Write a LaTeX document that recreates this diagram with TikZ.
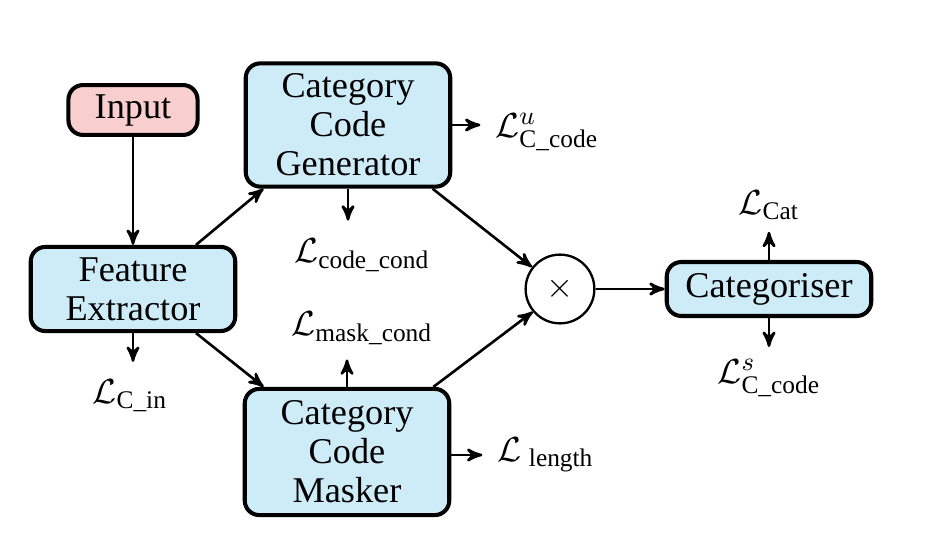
\documentclass[tikz,border=0pt]{standalone}
\usepackage{amsmath}
\usepackage{fontspec}
\setmainfont{Liberation Serif}
\usetikzlibrary{arrows}
\definecolor{boxblue}{RGB}{206,235,248}
\definecolor{boxpink}{RGB}{248,206,206}

\begin{document}
\begin{tikzpicture}[>=stealth', x=0.01211cm, y=-0.01211cm,
	font=\fontsize{12.5}{13.4}\selectfont,
	block/.style={draw, line width=1.4pt, rounded corners=5pt, fill=boxblue,
		align=center, inner sep=1pt, minimum width=70.5pt},
	loss/.style={inner sep=1pt},
	flow/.style={->, line width=0.9pt}]

	\useasboundingbox (0,0) rectangle (946,550);

	% blocks
	\node[block, fill=boxpink, minimum width=44.5pt, minimum height=17.2pt] (input) at (133,110) {Input};
	\node[block, minimum height=29pt] (fe) at (133,289) {Feature\\Extractor};
	\node[block, minimum height=42.5pt] (ccg) at (348,125) {Category\\Code\\Generator};
	\node[block, minimum height=43.5pt] (ccm) at (347,452) {Category\\Code\\Masker};
	\node[draw, circle, line width=0.8pt, minimum size=23.7pt, inner sep=0pt] (mult) at (560,289) {$\times$};
	\node[block, minimum height=18.6pt] (cat) at (769,289) {Categoriser};

	% losses
	\node[loss, anchor=west] (lccu) at (492,132) {$\mathcal{L}^{u}_{\text{C\_code}}$};
	\node[loss] (lcode) at (362,255) {$\mathcal{L}_{\text{code\_cond}}$};
	\node[loss] (lmask) at (362,328) {$\mathcal{L}_{\text{mask\_cond}}$};
	\node[loss, anchor=west] (llen) at (494,455) {$\mathcal{L}_{\;\text{length}}$};
	\node[loss] (lcin) at (130,396) {$\mathcal{L}_{\text{C\_in}}$};
	\node[loss] (lcat) at (769,205) {$\mathcal{L}_{\text{Cat}}$};
	\node[loss] (lccs) at (769,378) {$\mathcal{L}^{s}_{\text{C\_code}}$};

	% main flow
	\draw[flow] (input) -- (fe);
	\draw[flow] (fe.35) -- (ccg.217);
	\draw[flow] (fe.325) -- (ccm.142);
	\draw[flow] (ccg.323) -- (mult.142);
	\draw[flow] (ccm.37) -- (mult.220);
	\draw[flow] (mult) -- (cat);

	% loss arrows
	\draw[flow, shorten >=4pt] (ccg.east) -- (ccg.east -| lccu.west);
	\draw[flow, shorten >=5pt] (ccg.south) -- (ccg.south |- lcode.north);
	\draw[flow, shorten >=4pt] (ccm.north) -- (ccm.north |- lmask.south);
	\draw[flow, shorten >=4pt] (ccm.east |- llen) -- (llen.west);
	\draw[flow, shorten >=5pt] (fe.south) -- (fe.south |- lcin.north);
	\draw[flow, shorten >=3pt] (cat.north) -- (lcat.south);
	\draw[flow, shorten >=3pt] (cat.south) -- (lccs.north);

\end{tikzpicture}
\end{document}
